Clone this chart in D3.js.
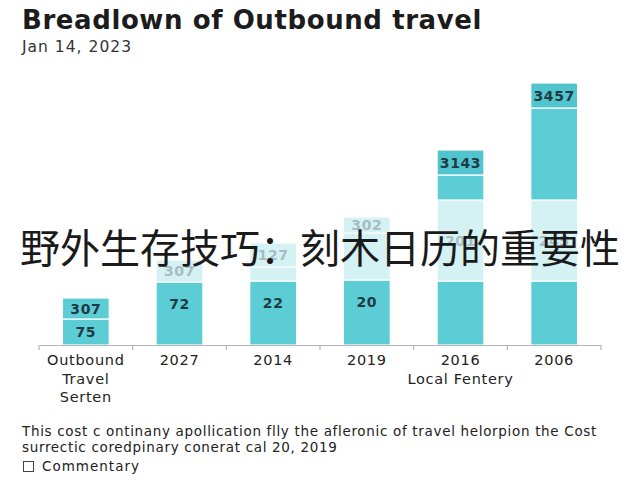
<!DOCTYPE html>
<html>
<head>
<meta charset="utf-8">
<script src="https://cdn.jsdelivr.net/npm/d3@7"></script>
<style>
  body { margin: 0; background: #fff; }
</style>
</head>
<body>
<div id="chart"></div>
<script>
// categories along the x axis (multi-line labels)
var categories = [["Outbound", "Travel", "Serten"], ["2027"], ["2014"], ["2019"], ["2016", "Local Fentery"], ["2006"]];

// stacked layers, bottom to top (chart units)
var baseVals   = [26, 63, 64, 65, 64, 64];
var secondVals = [21, 22, 14, 47, 81, 81];
var thirdVals  = [0, 0, 24, 16, 25, 92];
var capVals    = [0, 0, 0, 0, 25, 25];

// kind of each segment (teal = measured, pale = estimate, deep = total)
var baseKind   = ["teal", "teal", "teal", "teal", "teal", "teal"];
var secondKind = ["teal", "pale", "pale", "pale", "pale", "pale"];
var thirdKind  = ["teal", "teal", "pale", "pale", "teal", "teal"];
var capKind    = ["deep", "deep", "deep", "deep", "deep", "deep"];

// printed value labels per layer
var baseLabels   = ["75", "72", "22", "20", "", ""];
var secondLabels = ["307", "307", "", "", "201", "245"];
var thirdLabels  = ["", "", "127", "302", "", ""];
var capLabels    = ["", "", "", "", "3143", "3457"];

var title = "Breadlown of Outbound travel";
var subtitle = "Jan 14, 2023";
var overlay = "野外生存技巧：刻木日历的重要性";
var note = ["This cost c ontinany apollication flly the afleronic of travel helorpion the Cost",
            "surrectic coredpinary conerat cal 20, 2019"];
var legendText = "Commentary";

(function () {
    "use strict";
    var w = 640, h = 480;
    var fills = { teal: "#5ccdd5", pale: "#d4f1f4", deep: "#52c4cd" };
    var textFills = { teal: "#1e3a44", pale: "#a7bcc1", deep: "#1e3a44" };
    var font = "DejaVu Sans, sans-serif";

    // stretch a text to a given width using letter spacing
    function fitWidth(sel, target) {
        sel.each(function () {
            var n = this.getNumberOfChars();
            var len = this.getComputedTextLength();
            d3.select(this).attr("letter-spacing", (target - len) / n);
        });
    }

    var svg = d3.select("#chart").append("svg").attr("width", w).attr("height", h);

    var x = d3.scaleBand().domain(d3.range(categories.length))
        .range([39, 601]).paddingInner(0.5).paddingOuter(0.25);
    var y = d3.scaleLinear().domain([0, 270]).range([345, 75]);

    // build stacked segments
    var layers = [
        { vals: baseVals, kind: baseKind, labels: baseLabels, base: true },
        { vals: secondVals, kind: secondKind, labels: secondLabels },
        { vals: thirdVals, kind: thirdKind, labels: thirdLabels },
        { vals: capVals, kind: capKind, labels: capLabels }
    ];
    var segs = [];
    categories.forEach(function (c, i) {
        var acc = 0;
        layers.forEach(function (L) {
            var v = L.vals[i];
            if (v > 0) {
                segs.push({ i: i, y0: acc, y1: acc + v, kind: L.kind[i], label: L.labels[i], base: L.base });
            }
            acc += v;
        });
    });

    svg.selectAll("rect.seg").data(segs).enter().append("rect")
        .attr("class", "seg")
        .attr("x", function (d) { return x(d.i); })
        .attr("width", x.bandwidth())
        .attr("y", function (d) { return y(d.y1); })
        .attr("height", function (d) { return y(d.y0) - y(d.y1); })
        .attr("fill", function (d) { return fills[d.kind]; })
        .attr("stroke", "#fff")
        .attr("stroke-width", 1.2);

    svg.selectAll("text.val").data(segs.filter(function (d) { return d.label; })).enter().append("text")
        .attr("class", "val")
        .text(function (d) { return d.label; })
        .attr("x", function (d) { return x(d.i) + x.bandwidth() / 2; })
        .attr("y", function (d) {
            var mid = (y(d.y0) + y(d.y1)) / 2;
            return d.base ? Math.min(mid, y(d.y1) + 22) : mid;
        })
        .attr("dy", "0.36em")
        .attr("text-anchor", "middle")
        .attr("font-family", font)
        .attr("font-size", 14)
        .attr("font-weight", 600)
        .attr("letter-spacing", 0.6)
        .attr("fill", function (d) { return textFills[d.kind]; });

    // x axis: baseline plus ticks at band boundaries
    var axis = svg.append("g").attr("transform", "translate(0," + y(0) + ")")
        .call(d3.axisBottom(x).tickSize(0).tickFormat(""));
    axis.select(".domain").attr("stroke", "#b4b4b4").attr("stroke-width", 1.2);
    var bounds = d3.range(categories.length + 1).map(function (i) {
        return x.range()[0] + i * (x.range()[1] - x.range()[0]) / categories.length;
    });
    axis.selectAll("line.bound").data(bounds).enter().append("line")
        .attr("class", "bound")
        .attr("x1", function (d) { return d; }).attr("x2", function (d) { return d; })
        .attr("y1", 0).attr("y2", 5)
        .attr("stroke", "#b4b4b4").attr("stroke-width", 1.2);

    var catG = svg.selectAll("text.cat").data(categories).enter().append("text")
        .attr("class", "cat")
        .attr("x", function (d, i) { return x(i) + x.bandwidth() / 2; })
        .attr("y", y(0) + 20)
        .attr("text-anchor", "middle")
        .attr("font-family", font)
        .attr("font-size", 14.5)
        .attr("letter-spacing", 0.7)
        .attr("fill", "#222");
    catG.selectAll("tspan").data(function (d) { return d; }).enter().append("tspan")
        .attr("x", function () { return this.parentNode.getAttribute("x"); })
        .attr("dy", function (d, j) { return j === 0 ? 0 : 18.5; })
        .text(function (d) { return d; });

    // titles
    svg.append("text").text(title)
        .attr("x", 22).attr("y", 29)
        .attr("font-family", font)
        .attr("font-weight", 700)
        .attr("font-size", 26)
        .attr("fill", "#1c1c1c")
        .call(fitWidth, 460);

    svg.append("text").text(subtitle)
        .attr("x", 22).attr("y", 51.5)
        .attr("font-family", font)
        .attr("font-size", 15.5)
        .attr("fill", "#333")
        .call(fitWidth, 110);

    // footnote
    svg.selectAll("text.note").data(note).enter().append("text")
        .attr("class", "note")
        .text(function (d) { return d; })
        .attr("x", 22)
        .attr("y", function (d, i) { return 436 + i * 15.5; })
        .attr("font-family", font)
        .attr("font-size", 13.5)
        .attr("fill", "#222");
    svg.select("text.note").call(fitWidth, 575);
    svg.selectAll("text.note").filter(function (d, i) { return i === 1; })
        .attr("letter-spacing", svg.select("text.note").attr("letter-spacing"));

    svg.append("rect").attr("x", 23.5).attr("y", 461.5).attr("width", 10).attr("height", 10)
        .attr("fill", "none").attr("stroke", "#444").attr("stroke-width", 1);
    svg.append("text").text(legendText)
        .attr("x", 42).attr("y", 471)
        .attr("font-family", font)
        .attr("font-size", 13.5)
        .attr("fill", "#222")
        .call(fitWidth, 98);

    // large overlay caption
    svg.append("text").text(overlay)
        .attr("x", 320).attr("y", 263)
        .attr("text-anchor", "middle")
        .attr("font-family", "Noto Sans CJK SC, sans-serif")
        .attr("font-size", 40)
        .attr("fill", "#1a1a1a");
}());
</script>
</body>
</html>
